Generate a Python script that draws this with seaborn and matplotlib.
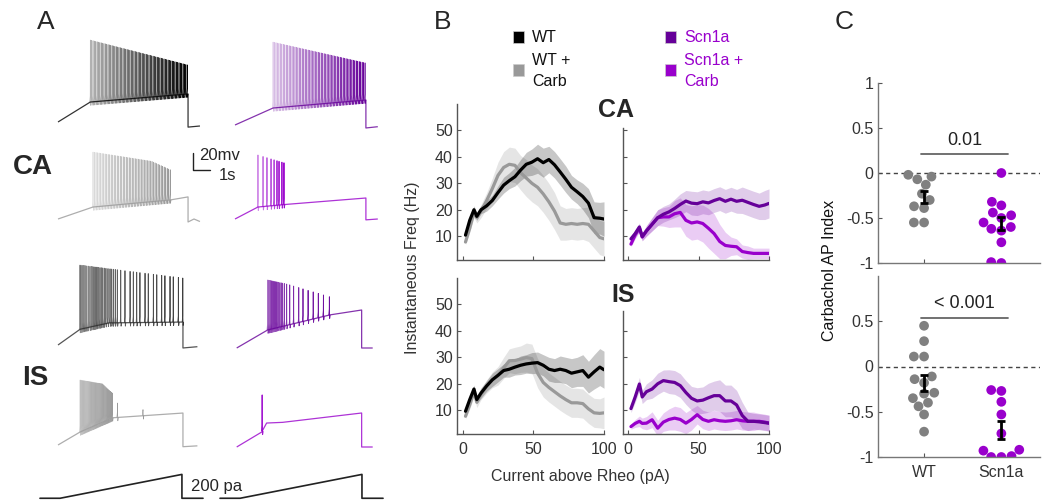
import numpy as np
import pandas as pd
import matplotlib
matplotlib.use("Agg")
import matplotlib.pyplot as plt
from matplotlib.patches import Rectangle
from matplotlib.collections import LineCollection
import seaborn as sns

# ---------------------------------------------------------------- data
# Panel B: instantaneous firing frequency (Hz) vs current above rheobase (pA)
current_pa = [2, 5, 8, 10, 13, 17, 21, 25, 29, 33, 37, 41, 45, 49,
              53, 57, 61, 65, 69, 73, 77, 81, 85, 89, 93, 97, 100]

ca_wt = [10.4, 16, 20, 17.5, 20, 21.5, 23.5, 26.5, 29.3, 31, 32.5, 35, 37.2, 38,
         39.3, 37.8, 39, 37, 34.3, 31.5, 28.5, 26.8, 25, 22.5, 17, 16.8, 16.5]
ca_wt_sem = [1, 1.5, 1.5, 1.5, 1.5, 2, 2, 2.5, 3, 3, 3.5, 4, 4.5, 5,
             5.5, 5.5, 5, 5, 5, 5, 4.5, 4.5, 5, 5.5, 6, 6, 6.5]
ca_wt_carb = [7.8, 13, 19, 17, 19.5, 23.5, 28, 33, 36, 37.2, 36.8, 34, 32, 30,
              28.5, 26, 23, 19.5, 15, 14.5, 14.8, 14.5, 14.8, 14.5, 12, 9.5, 9]
ca_wt_carb_sem = [1, 1.5, 2, 2, 2.5, 3, 4, 5, 6, 6.5, 6.5, 6.5, 7, 7,
                  7, 7, 7, 7, 6.5, 6, 6, 6, 6, 6.5, 6.5, 6.5, 6.5]
ca_scn = [9, 11, 13.5, 9.8, 12, 14.5, 17, 18.3, 19.2, 20.5, 22, 23.3, 22.5, 22.3,
          23, 22.6, 23.5, 24.2, 23.2, 24, 23.2, 23.6, 22.8, 22, 21.3, 21.8, 22.4]
ca_scn_sem = [1, 1.5, 1.5, 1.5, 2, 2.5, 3, 3, 3, 3.5, 4, 4, 4.5, 4.5,
              4.5, 4.5, 4.5, 4.5, 4.5, 4.5, 4.5, 5, 5, 5, 5, 5.5, 5.5]
ca_scn_carb = [7, 10.5, 13, 9.7, 12, 14.5, 17, 17.3, 17.3, 18.5, 19, 16, 15, 15.4,
               14.8, 13, 11, 8, 6.5, 6.2, 6, 4.2, 3.8, 3.5, 3.5, 3.5, 3.5]
ca_scn_carb_sem = [1, 1.5, 1.5, 1.5, 2, 2.5, 3, 3.5, 4, 5, 5.5, 6, 6.5, 6.5,
                   7, 7.5, 7.5, 6.5, 5, 3.5, 3, 2.5, 2.5, 2, 2, 2, 2]

is_wt = [9.6, 14, 18, 14, 16.5, 19.2, 21.5, 23.2, 25, 25.5, 26.3, 27, 27.5, 27.8,
         28, 27, 25.5, 25, 25.5, 25, 24, 24.5, 25, 22.5, 24.5, 26.3, 25.3]
is_wt_sem = [1, 1.5, 1.5, 1.5, 2, 2, 2.5, 2.5, 2.5, 3, 3, 3.5, 3.5, 4,
             4, 4, 4.5, 4.5, 5, 5, 5.5, 5.5, 6, 6, 6.5, 7, 7]
is_wt_carb = [7.7, 12, 17, 13, 16, 19, 21.5, 23, 26, 28.7, 28.8, 29.3, 29.9, 29.5,
              24, 20.5, 18.6, 17, 15.4, 14, 12.8, 12.8, 12.5, 10.5, 9, 8.8, 9]
is_wt_carb_sem = [1, 1.5, 2, 2, 2, 2.5, 3, 3.5, 4, 4.5, 5, 5, 5.5, 5.5,
                  5.5, 5.5, 5.5, 5.5, 5.5, 5.5, 5.5, 5.5, 5.5, 5.5, 5.5, 5.5, 6]
is_scn = [10.6, 15, 19.9, 15, 17, 18, 20, 21.2, 20.8, 20.5, 19.3, 16.7, 14.5, 13.5,
          13.8, 14.7, 15.5, 15.5, 13.5, 13.5, 12, 8, 5.8, 5.8, 5.6, 5.3, 5.1]
is_scn_sem = [1.5, 2, 2.5, 2.5, 3, 3.5, 4, 4, 4.5, 4.5, 4.5, 4.5, 4.5, 5,
              5, 5.5, 5.5, 6, 6, 6, 5.5, 5, 3.5, 3, 3, 3, 3]
is_scn_carb = [3.8, 5, 5.8, 5, 5.1, 6.4, 3.2, 5.5, 6.5, 7, 6.5, 5.1, 6.5, 8.3,
               6.5, 5.8, 6.4, 6, 5.8, 6, 6.4, 6, 5.8, 5.8, 5.8, 5.5, 5.1]
is_scn_carb_sem = [1, 1.5, 2, 2, 2.5, 3, 3, 3.5, 4, 4.5, 4.5, 4, 4, 3.5,
                   3.5, 3.5, 3.5, 3.5, 3.5, 3.5, 3.5, 3.5, 3.5, 3.5, 3, 3, 3]

# Panel C: carbachol AP index per cell
ca_index_wt = [-0.04, -0.02, -0.07, -0.13, -0.23, -0.30, -0.37, -0.39, -0.55, -0.55]
ca_index_scn = [0.0, -0.32, -0.36, -0.44, -0.47, -0.50, -0.55, -0.60, -0.62,
                -0.64, -0.77, -1.0, -0.99]
is_index_wt = [0.45, 0.28, 0.11, 0.11, -0.11, -0.14, -0.18, -0.29, -0.30,
               -0.35, -0.40, -0.44, -0.53, -0.72]
is_index_scn = [-0.27, -0.26, -0.39, -0.53, -0.74, -0.92, -0.93, -1.0, -0.99, -1.0]
groups = ["WT", "Scn1a"]
p_values = ["0.01", "< 0.001"]

# Panel A: example voltage traces (time in s, membrane potential in mV)
t1_base_t = [0, 1.9, 7.65, 7.65, 8.35]
t1_base_v = [-70, -46.5, -37, -76, -74.7]
t1_fire = (1.9, 7.6, 72)
t1_peak_t, t1_peak_v = [1.9, 7.65], [26.5, -3]

t2_base_t = [0, 2.24, 7.7, 7.7, 8.4]
t2_base_v = [-70, -50, -40.6, -73.5, -72]
t2_fire = (2.24, 7.65, 64)
t2_peak_t, t2_peak_v = [2.24, 7.7], [27.6, 2.9]

t3_base_t = [0, 2.06, 6.6, 7.65, 7.65, 8.0, 8.35]
t3_base_v = [-70, -55.9, -47.6, -44, -73.5, -70, -73]
t3_fire = (2.06, 6.6, 52)
t3_peak_t, t3_peak_v = [2.06, 5.5, 6.6], [8.8, -2, -12]

t4_base_t = [0, 1.35, 2.9, 7.7, 7.7, 8.4]
t4_base_v = [-70, -55.9, -53, -45.3, -71, -70]
t4_spikes = [1.35, 1.65, 1.88, 2.12, 2.3, 2.47, 2.59, 2.76, 2.88]
t4_peak_t, t4_peak_v = [1.35, 2.9], [5.3, -4]

t5_base_t = [0, 1.3, 3.0, 7.35, 7.35, 8.2]
t5_base_v = [-70, -51.5, -44, -43, -73.5, -72]
t5_spikes = [1.29, 1.35, 1.42, 1.49, 1.55, 1.62, 1.69, 1.78, 1.88, 1.96, 2.04,
             2.11, 2.18, 2.25, 2.31, 2.39, 2.47, 2.55, 2.63, 2.72, 2.82, 2.94,
             3.06, 3.15, 3.25, 3.37, 3.49, 3.69, 3.94, 4.24, 4.43, 4.63, 4.82,
             5.12, 5.31, 5.61, 5.81, 6.1, 6.29, 6.59, 6.78, 7.08, 7.34]
t5_peak_t, t5_peak_v = [1.3, 7.35], [24, 8.8]

t6_base_t = [0, 1.82, 5.5, 7.35, 7.35, 8.0]
t6_base_v = [-70, -48.8, -31, -25.3, -70, -70]
t6_spikes = [1.82, 1.87, 1.92, 1.98, 2.03, 2.08, 2.14, 2.2, 2.26, 2.32, 2.38,
             2.46, 2.54, 2.62, 2.7, 2.8, 2.94, 3.12, 3.35, 3.65, 3.9, 4.2, 4.5,
             4.8, 5.1, 5.45]
t6_peak_t, t6_peak_v = [1.82, 3.0, 5.5], [10, 5, -10]

t7_base_t = [0, 1.3, 3.2, 7.35, 7.35, 8.2]
t7_base_v = [-70, -54.7, -38, -32.4, -72, -71]
t7_fire = (1.3, 3.2, 36)
t7_peak_t, t7_peak_v = [1.3, 2.6, 3.2], [6.5, 2, -8.8]
t7_late_spikes, t7_late_peaks = [3.5, 5.0], [-20.6, -28.8]

t8_base_t = [0, 1.47, 1.76, 2.7, 7.35, 7.35, 8.0]
t8_base_v = [-70, -52.4, -41.8, -41, -30, -70, -70]
t8_spikes, t8_spike_peaks = [1.5], [-8.8]

# Current ramp command (pA)
ramp_t = [-1.06, 0.12, 7.29, 7.29, 8.53]
ramp_pa = [0, 0, 200, 0, 0]

# ---------------------------------------------------------------- style
sns.set_theme(style="ticks")
plt.rcParams["font.family"] = ["Liberation Sans", "DejaVu Sans"]

C_WT = "#000000"
C_WT_CARB = "#999999"
C_SCN = "#660099"
C_SCN_CARB = "#9900cc"
C_SPINE = "#555555"
C_TICK = "#333333"

W, H = 1042, 504
fig = plt.figure(figsize=(W / 100, H / 100), dpi=100)


def px_axes(l, t, r, b):
    return fig.add_axes([l / W, 1 - b / H, (r - l) / W, (b - t) / H])


def ftext(x, y, s, **kw):
    kw.setdefault("ha", "center")
    kw.setdefault("va", "center")
    return fig.text(x / W, 1 - y / H, s, **kw)


# ---------------------------------------------------------------- panel A
axA = px_axes(30, 30, 410, 462)
axA.axis("off")
axA.set_xlim((30 - 58) / 17, (410 - 58) / 17)
axA.set_ylim(-462 / 0.85, -30 / 0.85)


def draw_trace(ax, base_t, base_v, spikes, peaks, color, x_off, row_px,
               alpha_range=(0.35, 0.95), lw=0.45, ahp=4.0):
    """Baseline path plus one stroke per action potential."""
    y_off = 70 - row_px / 0.85
    bt = np.asarray(base_t, float) + x_off
    bv = np.asarray(base_v, float) + y_off
    ax.plot(bt, bv, color=color, lw=0.9, alpha=0.8, solid_capstyle="butt")
    spikes = np.asarray(spikes, float)
    if spikes.size == 0:
        return
    thr = np.interp(spikes, base_t, base_v) + y_off
    peaks = np.asarray(peaks, float) + y_off
    segs = []
    for s, b, p in zip(spikes, thr, peaks):
        x = s + x_off
        segs.append([(x - 0.035, b), (x - 0.006, b + 7), (x, p),
                     (x + 0.006, b + 7), (x + 0.02, b - ahp), (x + 0.05, b)])
    alphas = np.linspace(alpha_range[0], alpha_range[1], spikes.size)
    rgb = matplotlib.colors.to_rgb(color)
    cols = [(*rgb, a) for a in alphas]
    ax.add_collection(LineCollection(segs, colors=cols, linewidths=lw,
                                     antialiaseds=True))


def even_spikes(fire):
    return np.linspace(fire[0], fire[1], fire[2])


RIGHT = (235 - 58) / 17

s1 = even_spikes(t1_fire)
draw_trace(axA, t1_base_t, t1_base_v, s1, np.interp(s1, t1_peak_t, t1_peak_v),
           C_WT, 0, 122, alpha_range=(0.3, 1.0))
s2 = even_spikes(t2_fire)
draw_trace(axA, t2_base_t, t2_base_v, s2, np.interp(s2, t2_peak_t, t2_peak_v),
           C_SCN, RIGHT, 125, alpha_range=(0.25, 1.0))
s3 = even_spikes(t3_fire)
draw_trace(axA, t3_base_t, t3_base_v, s3, np.interp(s3, t3_peak_t, t3_peak_v),
           C_WT_CARB, 0, 219, alpha_range=(0.35, 1.0))
draw_trace(axA, t4_base_t, t4_base_v, t4_spikes,
           np.interp(t4_spikes, t4_peak_t, t4_peak_v), C_SCN_CARB, RIGHT, 219,
           alpha_range=(0.45, 0.95), lw=0.7)
draw_trace(axA, t5_base_t, t5_base_v, t5_spikes,
           np.interp(t5_spikes, t5_peak_t, t5_peak_v), "#2a2a2a", 0, 345,
           alpha_range=(0.5, 0.9), lw=0.6)
draw_trace(axA, t6_base_t, t6_base_v, t6_spikes,
           np.interp(t6_spikes, t6_peak_t, t6_peak_v), C_SCN, RIGHT + 0.1, 348,
           alpha_range=(0.55, 0.95), lw=0.6)
s7 = even_spikes(t7_fire)
draw_trace(axA, t7_base_t, t7_base_v, np.r_[s7, t7_late_spikes],
           np.r_[np.interp(s7, t7_peak_t, t7_peak_v), t7_late_peaks],
           C_WT_CARB, 0, 445, alpha_range=(0.55, 1.0))
draw_trace(axA, t8_base_t, t8_base_v, t8_spikes, t8_spike_peaks,
           C_SCN_CARB, RIGHT + 0.1, 447, alpha_range=(0.9, 0.9), lw=0.8)

# scale bar: 20 mV / 1 s
sb_x, sb_y = (193 - 58) / 17, -170 / 0.85
axA.plot([sb_x, sb_x, sb_x + 1], [sb_y + 20, sb_y, sb_y], color="#222222", lw=1)
ftext(199, 155, "20mv", fontsize=12, ha="left")
ftext(219, 175, "1s", fontsize=12, ha="left")

# current ramp
axR = px_axes(30, 462, 410, 504)
axR.axis("off")
axR.set_xlim((30 - 58) / 17, (410 - 58) / 17)
axR.set_ylim(-48, 304)
for off in (0, 10.59):
    axR.plot(np.asarray(ramp_t) + off, ramp_pa, color="#222222", lw=1.2)
ftext(217, 487, f"{max(ramp_pa)} pa", fontsize=12)

ftext(46, 22, "A", fontsize=19)
ftext(33, 167, "CA", fontsize=20, fontweight="bold")
ftext(35, 378, "IS", fontsize=20, fontweight="bold")

# ---------------------------------------------------------------- panel B
axTL = px_axes(457, 104, 604, 260)
axTR = px_axes(622.5, 104, 769, 260)
axBL = px_axes(457, 278, 604, 434)
axBR = px_axes(622.5, 278, 769, 434)


def freq_panel(ax, a, a_sem, b, b_sem, ca, cb, band_alpha_a, band_alpha_b):
    x = np.asarray(current_pa, float)
    for m, s, c, al in ((b, b_sem, cb, band_alpha_b), (a, a_sem, ca, band_alpha_a)):
        m, s = np.asarray(m), np.asarray(s)
        ax.fill_between(x, m - s, m + s, color=c, alpha=al, lw=0)
    sns.lineplot(x=x, y=b, ax=ax, color=cb, lw=2.3, legend=False)
    sns.lineplot(x=x, y=a, ax=ax, color=ca, lw=2.3, legend=False)


freq_panel(axTL, ca_wt, ca_wt_sem, ca_wt_carb, ca_wt_carb_sem,
           C_WT, C_WT_CARB, 0.22, 0.25)
freq_panel(axTR, ca_scn, ca_scn_sem, ca_scn_carb, ca_scn_carb_sem,
           C_SCN, C_SCN_CARB, 0.2, 0.2)
freq_panel(axBL, is_wt, is_wt_sem, is_wt_carb, is_wt_carb_sem,
           C_WT, C_WT_CARB, 0.22, 0.25)
freq_panel(axBR, is_scn, is_scn_sem, is_scn_carb, is_scn_carb_sem,
           C_SCN, C_SCN_CARB, 0.2, 0.2)

for ax, xl, yl, ytop, yt in ((axTL, False, True, 60, [10, 20, 30, 40, 50]),
                             (axTR, False, False, 51, [10, 20, 30, 40, 50]),
                             (axBL, True, True, 60, [10, 20, 30, 40, 50]),
                             (axBR, True, False, 47.5, [10, 20, 30, 40])):
    ax.set_xlim(-4, 100)
    ax.set_ylim(1, 60)
    ax.set_xlabel("")
    ax.set_ylabel("")
    sns.despine(ax=ax)
    ax.spines["left"].set_bounds(1, ytop)
    for sp in ("left", "bottom"):
        ax.spines[sp].set_color(C_SPINE)
        ax.spines[sp].set_linewidth(1.0)
    ax.set_xticks([0, 50, 100])
    ax.set_yticks(yt)
    ax.tick_params(direction="in", length=3, width=0.8, color=C_SPINE,
                   labelsize=11.5, labelcolor=C_TICK, pad=3)
    if not xl:
        ax.set_xticklabels([])
    else:
        ax.tick_params(axis="x", pad=6)
    if not yl:
        ax.set_yticklabels([])

ftext(580, 477, "Current above Rheo (pA)", fontsize=11.5, color=C_TICK)
ftext(413, 268, "Instantaneous Freq (Hz)", fontsize=11.5, color=C_TICK,
      rotation=90)
ftext(616, 110, "CA", fontsize=18, fontweight="bold")
ftext(623, 295, "IS", fontsize=18, fontweight="bold")
ftext(443, 22, "B", fontsize=19)

# legend
for (cx, cy), col, label, tcol in (((518, 37), C_WT, "WT", "#111111"),
                                   ((518, 70), C_WT_CARB, "WT +\nCarb", "#111111"),
                                   ((670, 37), C_SCN, "Scn1a", C_SCN_CARB),
                                   ((670, 70), C_SCN_CARB, "Scn1a +\nCarb", C_SCN_CARB)):
    fig.patches.append(Rectangle(((cx - 5.5) / W, 1 - (cy + 5.5) / H), 11 / W, 11 / H,
                                 transform=fig.transFigure, facecolor=col,
                                 edgecolor="#cccccc", lw=0.5))
    ftext(cx + 14, cy + 1, label, fontsize=11.5, color=tcol, ha="left",
          linespacing=1.45)

# ---------------------------------------------------------------- panel C
axCT = px_axes(877.7, 83, 1040, 263)
axCB = px_axes(877.7, 276, 1040, 457)

for ax, wt, scn, p, ybar in ((axCT, ca_index_wt, ca_index_scn, p_values[0], 0.21),
                             (axCB, is_index_wt, is_index_scn, p_values[1], 0.54)):
    df = pd.DataFrame({"group": [groups[0]] * len(wt) + [groups[1]] * len(scn),
                       "index": list(wt) + list(scn)})
    sns.swarmplot(data=df, x="group", y="index", hue="group", order=groups,
                  palette={groups[0]: "#808080", groups[1]: C_SCN_CARB},
                  size=7.0, ax=ax, legend=False, zorder=2)
    stats = df.groupby("group")["index"].agg(["mean", "std", "count"])
    for i, g in enumerate(groups):
        m = stats.loc[g, "mean"]
        se = stats.loc[g, "std"] / np.sqrt(stats.loc[g, "count"])
        ax.errorbar(i, m, yerr=se, fmt="none", ecolor="black", elinewidth=2,
                    capsize=3, capthick=2, zorder=5)
    ax.axhline(0, color="#444444", lw=1, ls=(0, (3, 2.5)), zorder=1)
    ax.plot([-0.04, 1.09], [ybar, ybar], color="#666666", lw=1.3)
    ax.text(0.525, ybar + 0.06, p, ha="center", va="bottom", fontsize=13,
            color="#222222")
    ax.set_xlim(-0.6, 1.5)
    ax.set_ylim(-1, 1)
    ax.set_xlabel("")
    ax.set_ylabel("")
    sns.despine(ax=ax)
    for sp in ("left", "bottom"):
        ax.spines[sp].set_color("#777777")
        ax.spines[sp].set_linewidth(1.0)
    ax.tick_params(direction="in", length=3, width=0.8, color="#555555",
                   labelsize=11.5, labelcolor=C_TICK, pad=3)

axCT.set_yticks([-1, -0.5, 0, 0.5, 1])
axCT.set_yticklabels(["-1", "-0.5", "0", "0.5", "1"])
axCT.set_xticks([0, 1])
axCT.set_xticklabels([])
axCB.set_yticks([-1, -0.5, 0, 0.5])
axCB.set_yticklabels(["-1", "-0.5", "0", "0.5"])
axCB.set_xticks([0, 1])
axCB.set_xticklabels(groups)
axCB.tick_params(axis="x", pad=6)

ftext(829, 270, "Carbachol AP Index", fontsize=11.5, color="#111111", rotation=90)
ftext(844, 22, "C", fontsize=19)

fig.savefig("out.png", dpi=100, facecolor="white")
